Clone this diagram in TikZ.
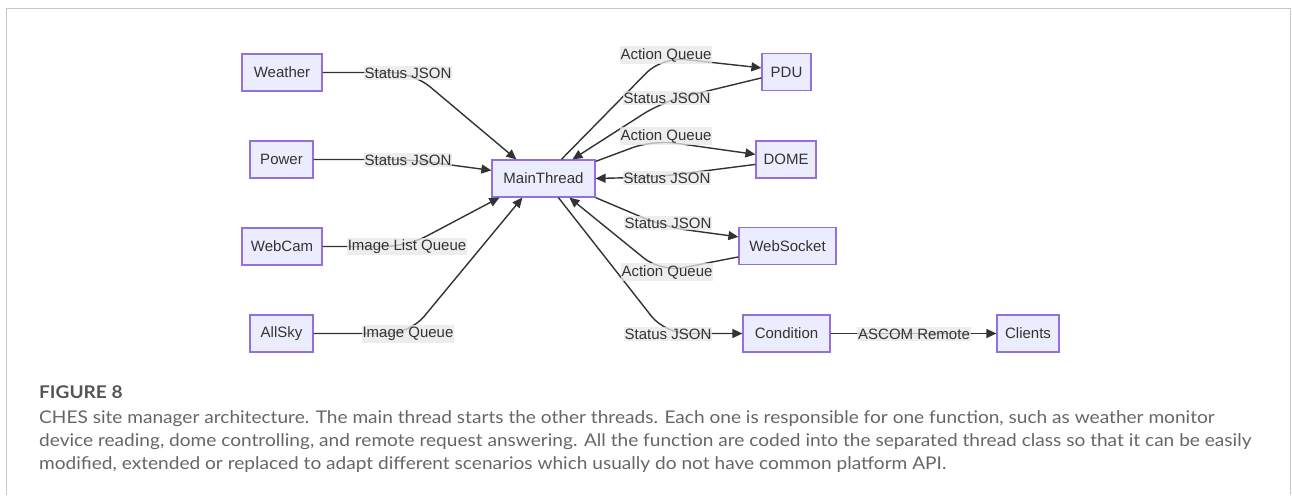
\documentclass[tikz,border=0pt]{standalone}
\usepackage{fontspec}
\setmainfont{Liberation Sans}
\newfontfamily\capfont[FakeStretch=1.09]{Lato}
\usetikzlibrary{arrows.meta,calc}
\definecolor{boxfill}{HTML}{ECECFF}
\definecolor{boxline}{HTML}{9370DB}
\definecolor{ink}{HTML}{333333}
\definecolor{lblbg}{HTML}{E8E8E8}
\definecolor{capgray}{HTML}{666666}
\definecolor{capdark}{HTML}{555555}
\definecolor{framegray}{HTML}{C8C8C8}
\tikzset{
  thread/.style={draw=boxline, fill=boxfill, line width=1.2pt, text=ink,
    minimum height=37pt, inner sep=0pt, font=\fontsize{15}{17}\selectfont},
  elabel/.style={fill=lblbg, fill opacity=0.75, text opacity=1, text=ink,
    inner xsep=1pt, inner ysep=2pt, font=\fontsize{15}{17}\selectfont},
  link/.style={draw=ink, line width=1.4pt, rounded corners=22pt},
  arrowlink/.style={link, -{Triangle[length=10pt,width=9pt]}},
  captext/.style={anchor=base west, inner sep=0pt, text=capgray,
    font=\capfont\fontsize{17.5}{20}\selectfont}
}
\begin{document}
\begin{tikzpicture}[x=1pt,y=-1pt]
\useasboundingbox (0,0) rectangle (1292,495);
\fill[white] (0,0) rectangle (1292,495);
\draw[framegray, line width=1pt] (6,495) -- (6,9) -- (1290,9) -- (1290,495);

% nodes
\node[thread, minimum width=80pt] (weather) at (282,72.5) {Weather};
\node[thread, minimum width=63pt] (power) at (281.5,159.5) {Power};
\node[thread, minimum width=80pt] (webcam) at (282,246.5) {WebCam};
\node[thread, minimum width=63pt] (allsky) at (281.5,333.5) {AllSky};
\node[thread, minimum width=103pt] (main) at (543.5,178.5) {MainThread};
\node[thread, minimum width=49pt] (pdu) at (786.5,72) {PDU};
\node[thread, minimum width=60pt] (dome) at (786,159.5) {DOME};
\node[thread, minimum width=97pt] (websocket) at (787.5,246) {WebSocket};
\node[thread, minimum width=87pt] (condition) at (786.5,333.5) {Condition};
\node[thread, minimum width=62pt] (clients) at (1028,333.5) {Clients};

% connectors
\draw[arrowlink] (weather.east) -- (413,72.5) -- ($(main.north west)+(25,0)$);
\draw[arrowlink] (power.east) -- (410,159.5) -- ($(main.north west)+(0,11)$);
\draw[arrowlink] (webcam.east) -- (407,246.5) -- ($(main.south west)+(8,0)$);
\draw[arrowlink] (allsky.east) -- (410,333.5) -- ($(main.south west)+(31,0)$);
\draw[arrowlink] ($(main.north west)+(70,0)$) -- (662,57) -- ($(pdu.north west)+(0,15)$);
\draw[arrowlink] ($(pdu.north west)+(0,25)$) -- (662,102) -- ($(main.north west)+(81,0)$);
\draw[arrowlink] ($(main.north east)+(0,2)$) -- (653,140) -- ($(dome.north west)+(0,14)$);
\draw[arrowlink] ($(dome.north west)+(0,24)$) -- (657,177) -- (main.east);
\draw[arrowlink] (main.south east) -- (665,227) -- ($(websocket.north west)+(0,10)$);
\draw[arrowlink] ($(websocket.north west)+(0,30)$) -- (661,272) -- ($(main.south west)+(78,0)$);
\draw[arrowlink] ($(main.south west)+(67,0)$) -- (665,333.5) -- (condition.west);
\draw[arrowlink] (condition.east) -- (clients.west);

% edge labels
\node[elabel] (l1) at (408,73) {Status JSON};
\node[elabel] (l2) at (408,160) {Status JSON};
\node[elabel] (l3) at (407,246.5) {Image List Queue};
\node[elabel] (l4) at (408,334) {Image Queue};
\node[elabel] (l5) at (666,55) {Action Queue};
\node[elabel] (l6) at (667,98) {Status JSON};
\node[elabel] (l7) at (666,136) {Action Queue};
\node[elabel] (l8) at (667,178) {Status JSON};
\node[elabel] (l9) at (668,223) {Status JSON};
\node[elabel] (l10) at (667,272) {Action Queue};
\node[elabel] (l11) at (668,334) {Status JSON};
\node[elabel] (l12) at (914,334) {ASCOM Remote};

% caption
\node[captext, text=capdark, font=\capfont\bfseries\fontsize{17.5}{20}\selectfont] (fig) at (39,398) {FIGURE 8};
\node[captext] (c1) at (39,423) {CHES site manager architecture. The main thread starts the other threads. Each one is responsible for one function, such as weather monitor};
\node[captext] (c2) at (39,446) {device reading, dome controlling, and remote request answering. All the function are coded into the separated thread class so that it can be easily};
\node[captext] (c3) at (39,469) {modified, extended or replaced to adapt different scenarios which usually do not have common platform API.};
\end{tikzpicture}
\end{document}
